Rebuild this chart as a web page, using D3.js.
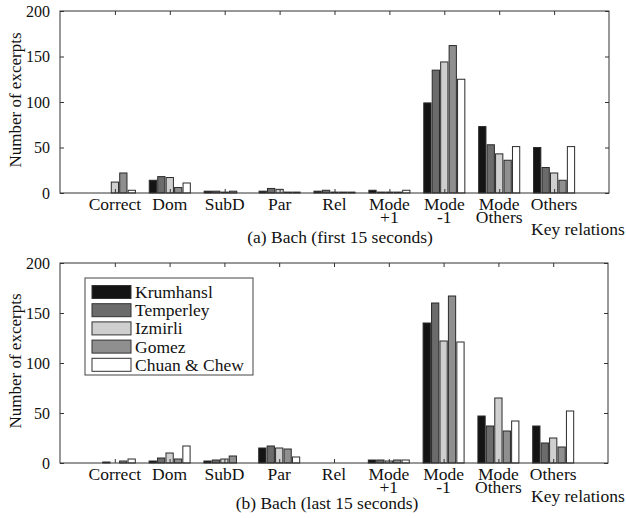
<!DOCTYPE html>
<html>
<head>
<meta charset="utf-8">
<script src="https://cdn.jsdelivr.net/npm/d3@7"></script>
<style>
  body { margin: 0; background: #fff; }
  svg text { font-family: "Liberation Serif", "Times New Roman", Times, serif !important; fill: #111; }
</style>
</head>
<body>
<div id="chart"></div>
<script>
// key relation categories (multi-line labels split on \n)
var categories = ["Correct", "Dom", "SubD", "Par", "Rel", "Mode\n+1", "Mode\n-1", "Mode\nOthers", "Others"];
var methods = ["Krumhansl", "Temperley", "Izmirli", "Gomez", "Chuan & Chew"];
var yTicks = [0, 50, 100, 150, 200];

// (a) Bach, first 15 seconds
var firstKrumhansl = [0, 14, 2, 2, 2, 3, 99, 73, 50];
var firstTemperley = [0, 18, 2, 5, 3, 1, 135, 53, 28];
var firstIzmirli   = [12, 17, 1, 4, 1, 1, 144, 43, 22];
var firstGomez     = [22, 6, 2, 1, 1, 1, 162, 36, 14];
var firstChuanChew = [3, 11, 0, 1, 1, 3, 125, 51, 51];

// (b) Bach, last 15 seconds
var lastKrumhansl = [0, 2, 2, 15, 0, 3, 140, 47, 37];
var lastTemperley = [1, 5, 3, 17, 0, 3, 160, 37, 20];
var lastIzmirli   = [0, 10, 4, 15, 0, 2, 122, 65, 25];
var lastGomez     = [2, 4, 7, 14, 0, 3, 167, 32, 16];
var lastChuanChew = [4, 17, 0, 6, 0, 3, 121, 42, 52];

var colors = ["#141414", "#6b6b6b", "#cfcfcf", "#8f8f8f", "#ffffff"];

var svgWidth = 626, svgHeight = 518;
var svg = d3.select("#chart").append("svg")
    .attr("width", svgWidth)
    .attr("height", svgHeight);

function drawPanel(opts) {
    var series = opts.series;
    var x = d3.scaleLinear().domain([0, categories.length + 1]).range([opts.left, opts.right]);
    var y = d3.scaleLinear().domain([0, 200]).range([opts.bottom, opts.top]);
    var g = svg.append("g");

    // bars: matlab-style grouped bars
    var groupWidth = Math.min(0.8, methods.length / (methods.length + 1.5));
    var step = groupWidth / methods.length;
    var barW = step * 0.86;
    series.forEach(function(vals, si) {
        var off = (si - (methods.length - 1) / 2) * step;
        var pts = vals.map(function(v, i) { return { pos: i + 1, v: v }; })
            .filter(function(d) { return d.v > 0; });
        g.selectAll(null)
            .data(pts)
            .enter()
            .append("rect")
            .attr("x", function(d) { return x(d.pos + off - barW / 2); })
            .attr("width", x(barW) - x(0))
            .attr("y", function(d) { return y(d.v); })
            .attr("height", function(d) { return y(0) - y(d.v); })
            .attr("fill", colors[si])
            .attr("stroke", "#2a2a2a")
            .attr("stroke-width", 1);
    });

    var catTicks = categories.map(function(c, i) { return i + 1; });

    // axes with inward ticks
    g.append("g")
        .attr("transform", "translate(0," + opts.bottom + ")")
        .call(d3.axisBottom(x).tickValues(catTicks).tickSizeInner(-4).tickSizeOuter(0).tickFormat(""));
    g.append("g")
        .attr("transform", "translate(0," + opts.top + ")")
        .call(d3.axisTop(x).tickValues(catTicks).tickSizeInner(-4).tickSizeOuter(0).tickFormat(""));
    var yLeft = g.append("g")
        .attr("transform", "translate(" + opts.left + ",0)")
        .call(d3.axisLeft(y).tickValues(yTicks).tickSizeInner(-4).tickSizeOuter(0).tickPadding(10).tickFormat(d3.format("d")));
    g.append("g")
        .attr("transform", "translate(" + opts.right + ",0)")
        .call(d3.axisRight(y).tickValues(yTicks).tickSizeInner(-4).tickSizeOuter(0).tickFormat(""));

    g.selectAll(".domain").remove();
    g.selectAll(".tick line").attr("stroke", "#333");
    yLeft.selectAll("text")
        .style("font-size", "16px")
        .attr("fill", "#111");

    // frame
    g.append("rect")
        .attr("x", opts.left).attr("y", opts.top)
        .attr("width", opts.right - opts.left)
        .attr("height", opts.bottom - opts.top)
        .attr("fill", "none")
        .attr("stroke", "#333")
        .attr("stroke-width", 1);

    // category labels
    var labels = g.selectAll(".cat")
        .data(categories)
        .enter()
        .append("text")
        .attr("class", "cat")
        .attr("text-anchor", "middle")
        .style("font-size", "17.5px")
        .attr("y", opts.bottom + 17);
    labels.each(function(d, i) {
        var t = d3.select(this);
        d.split("\n").forEach(function(line, li) {
            t.append("tspan")
                .attr("x", x(i + 1))
                .attr("dy", li === 0 ? 0 : opts.lineGap)
                .text(line);
        });
    });

    g.append("text")
        .attr("x", 531)
        .attr("y", opts.keyY)
        .style("font-size", "17.5px")
        .text("Key relations");

    g.append("text")
        .attr("x", opts.titleX)
        .attr("y", opts.titleY)
        .attr("text-anchor", "middle")
        .style("font-size", "17.5px")
        .text(opts.title);

    g.append("text")
        .attr("transform", "translate(21," + ((opts.top + opts.bottom) / 2 - 2) + ") rotate(-90)")
        .attr("text-anchor", "middle")
        .style("font-size", "17px")
        .text("Number of excerpts");

    if (opts.legend) {
        var lg = g.append("g");
        lg.append("rect")
            .attr("x", 85).attr("y", 278)
            .attr("width", 168).attr("height", 97)
            .attr("fill", "#fff")
            .attr("stroke", "#444");
        methods.forEach(function(m, i) {
            var cy = 292 + i * 18.2;
            lg.append("rect")
                .attr("x", 92).attr("y", cy - 6.5)
                .attr("width", 39).attr("height", 13)
                .attr("fill", colors[i])
                .attr("stroke", "#333");
            lg.append("text")
                .attr("x", 135).attr("y", cy + 6)
                .style("font-size", "17.5px")
                .text(m);
        });
    }
}

drawPanel({
    series: [firstKrumhansl, firstTemperley, firstIzmirli, firstGomez, firstChuanChew],
    left: 60, right: 609, top: 11, bottom: 193,
    lineGap: 13, keyY: 235, titleX: 340, titleY: 243,
    title: "(a) Bach (first 15 seconds)", legend: false
});

drawPanel({
    series: [lastKrumhansl, lastTemperley, lastIzmirli, lastGomez, lastChuanChew],
    left: 60, right: 608, top: 263, bottom: 463,
    lineGap: 13, keyY: 502, titleX: 327, titleY: 509,
    title: "(b) Bach (last 15 seconds)", legend: true
});
</script>
</body>
</html>
